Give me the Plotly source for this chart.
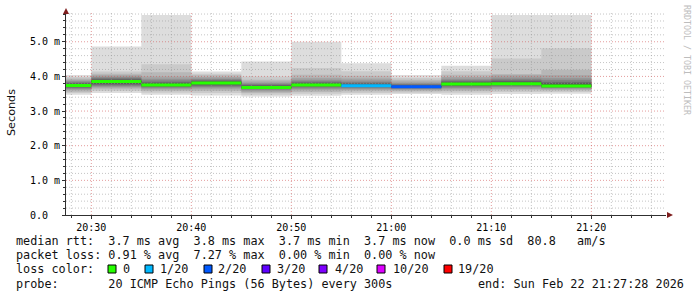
import plotly.graph_objects as go
import pandas as pd

DAY = "2026-02-22 "

# ---------------- data ----------------
interval_starts = ["20:25", "20:30", "20:35", "20:40", "20:45", "20:50",
                   "20:55", "21:00", "21:05", "21:10", "21:15"]
interval_end = "21:20"

# sorted 20 ping round-trip times per 5-minute interval (ms), estimated from the smoke
pings_ms = [
    [3.47, 3.52, 3.56, 3.60, 3.63, 3.66, 3.68, 3.70, 3.72, 3.73, 3.75, 3.77, 3.79, 3.81, 3.84, 3.87, 3.90, 3.94, 3.98, 4.04],
    [3.52, 3.58, 3.63, 3.67, 3.70, 3.73, 3.76, 3.79, 3.81, 3.83, 3.86, 3.88, 3.90, 3.93, 3.96, 3.99, 4.03, 4.08, 4.14, 4.86],
    [3.47, 3.53, 3.58, 3.62, 3.65, 3.68, 3.70, 3.72, 3.74, 3.75, 3.76, 3.78, 3.81, 3.84, 3.88, 3.93, 4.00, 4.12, 4.35, 5.77],
    [3.45, 3.52, 3.58, 3.63, 3.67, 3.70, 3.73, 3.76, 3.78, 3.80, 3.82, 3.84, 3.86, 3.88, 3.91, 3.94, 3.98, 4.03, 4.08, 4.14],
    [3.42, 3.47, 3.52, 3.56, 3.59, 3.62, 3.64, 3.66, 3.67, 3.68, 3.69, 3.71, 3.73, 3.75, 3.78, 3.81, 3.85, 3.90, 4.00, 4.43],
    [3.44, 3.50, 3.55, 3.60, 3.64, 3.67, 3.70, 3.72, 3.74, 3.75, 3.76, 3.78, 3.80, 3.83, 3.86, 3.90, 3.96, 4.05, 4.24, 5.00],
    [3.47, 3.52, 3.57, 3.61, 3.64, 3.67, 3.69, 3.71, 3.72, 3.73, 3.74, 3.76, 3.78, 3.81, 3.84, 3.88, 3.94, 4.02, 4.15, 4.38],
    [3.49, 3.53, 3.57, 3.60, 3.63, 3.65, 3.67, 3.68, 3.69, 3.70, 3.71, 3.72, 3.74, 3.76, 3.78, 3.81, 3.85, 3.90, 3.96, 4.04],
    [3.47, 3.53, 3.58, 3.62, 3.66, 3.69, 3.72, 3.74, 3.76, 3.78, 3.79, 3.81, 3.83, 3.86, 3.89, 3.93, 3.98, 4.05, 4.15, 4.31],
    [3.49, 3.55, 3.60, 3.64, 3.68, 3.71, 3.74, 3.76, 3.78, 3.79, 3.80, 3.82, 3.85, 3.88, 3.92, 3.97, 4.03, 4.07, 4.52, 5.77],
    [3.50, 3.55, 3.59, 3.62, 3.65, 3.67, 3.69, 3.70, 3.71, 3.72, 3.74, 3.77, 3.80, 3.84, 3.89, 3.95, 4.03, 4.19, 4.81, 5.77],
]
median_ms = [3.74, 3.85, 3.75, 3.81, 3.68, 3.75, 3.73, 3.70, 3.78, 3.79, 3.72]
loss_of_20 = [0, 0, 0, 0, 0, 0, 1, 2, 0, 0, 0]

loss_levels = [0, 1, 2, 3, 4, 10, 19]
loss_labels = ["0", "1/20", "2/20", "3/20", "4/20", "10/20", "19/20"]
loss_colors = ["#26ff00", "#00b8ff", "#0059ff", "#5e00ff", "#7e00ff", "#dd00ff", "#ff0000"]

y_tick_vals = [0, 1, 2, 3, 4, 5]
y_tick_text = ["0.0\u00a0\u00a0", "1.0 m", "2.0 m", "3.0 m", "4.0 m", "5.0 m"]
x_tick_vals = ["20:30", "20:40", "20:50", "21:00", "21:10", "21:20"]
x_range = ["20:27:28", "21:27:28"]
y_range = [0, 5.83]

legend_lines = [
    "median rtt:  3.7 ms avg  3.8 ms max  3.7 ms min  3.7 ms now  0.0 ms sd  80.8   am/s",
    "packet loss: 0.91 % avg  7.27 % max  0.00 % min  0.00 % now",
    "loss color:",
    "probe:       20 ICMP Echo Pings (56 Bytes) every 300s",
]
end_text = "end: Sun Feb 22 21:27:28 2026"
watermark = "RRDTOOL / TOBI OETIKER"

# ---------------- layout geometry (pixels) ----------------
W, H = 697, 297
L, R, T, B = 66, 31, 13, 82
PW, PH = W - L - R, H - T - B
AX_Y = T + PH  # pixel row of x axis


def px(x):
    return (x - L) / PW


def py(y):
    return (AX_Y - y) / PH


MONO = "DejaVu Sans Mono"
fig = go.Figure()

xs = [DAY + s for s in interval_starts] + [DAY + interval_end]

# ---------------- smoke ----------------
n = len(pings_ms[0])
half = n // 2
for ibot in range(1, half + 1):
    itop = n + 1 - ibot
    lo = [p[ibot - 1] for p in pings_ms]
    hi = [p[itop - 1] for p in pings_ms]
    c = int(190 / half * (half - ibot)) + 50
    fig.add_trace(go.Scatter(x=xs, y=lo + [lo[-1]], mode="lines",
                             line=dict(width=0, shape="hv"),
                             hoverinfo="skip", showlegend=False))
    fig.add_trace(go.Scatter(x=xs, y=hi + [hi[-1]], mode="lines",
                             line=dict(width=0, shape="hv"), fill="tonexty",
                             fillcolor=f"rgb({c},{c},{c})",
                             hoverinfo="skip", showlegend=False))

# ---------------- grid (drawn above smoke, below median) ----------------
t0 = pd.Timestamp(DAY + x_range[0])
t1 = pd.Timestamp(DAY + x_range[1])
all_x = pd.date_range(DAY + "20:28", DAY + "21:26", freq="2min")
major_x = [t for t in all_x if t.minute % 10 == 0]
minor_x = [t for t in all_x if t.minute % 10 != 0]
minor_y = [round(0.2 * k, 1) for k in range(1, 30) if k % 5 != 0]
major_y = [v for v in y_tick_vals if v > 0]


def grid_trace(xv, yv, color):
    gx, gy = [], []
    for t in xv:
        gx += [t, t, None]
        gy += [y_range[0], y_range[1], None]
    for v in yv:
        gx += [t0, t1, None]
        gy += [v, v, None]
    return go.Scatter(x=gx, y=gy, mode="lines",
                      line=dict(color=color, width=1, dash="1px,2px"),
                      hoverinfo="skip", showlegend=False, connectgaps=False)


fig.add_trace(grid_trace(minor_x, minor_y, "rgba(150,150,150,0.55)"))
fig.add_trace(grid_trace(major_x, major_y, "rgba(210,90,90,0.6)"))

# ---------------- median line colored by loss ----------------
def loss_color(lv):
    idx = 0
    for i, lev in enumerate(loss_levels):
        if lv >= lev:
            idx = i
    return loss_colors[idx]


for i, m in enumerate(median_ms):
    fig.add_trace(go.Scatter(x=[xs[i], xs[i + 1]], y=[m, m], mode="lines",
                             line=dict(color=loss_color(loss_of_20[i]), width=3),
                             hoverinfo="skip", showlegend=False))

# ---------------- axes ----------------
fig.update_xaxes(
    range=[DAY + x_range[0], DAY + x_range[1]],
    tickvals=[DAY + v for v in x_tick_vals], ticktext=x_tick_vals,
    showgrid=False, zeroline=False, showline=True, linecolor="#303030", linewidth=1,
    ticks="outside", ticklen=3, tickcolor="#303030",
    tickfont=dict(family=MONO, size=10, color="#000"),
    minor=dict(tickvals=list(minor_x), ticks="outside", ticklen=2,
               tickcolor="#303030", showgrid=False),
)
fig.update_yaxes(
    range=y_range, tickvals=y_tick_vals, ticktext=y_tick_text,
    showgrid=False, zeroline=False, showline=True, linecolor="#303030", linewidth=1,
    ticks="outside", ticklen=3, tickcolor="#303030",
    tickfont=dict(family=MONO, size=10, color="#000"),
    minor=dict(tickvals=minor_y, ticks="outside", ticklen=2,
               tickcolor="#303030", showgrid=False),
)

# ---------------- arrows ----------------
arrow_col = "#7f1f1f"
shapes = [
    dict(type="path", xref="paper", yref="paper",
         path=f"M {px(66)},{py(8)} L {px(63)},{py(14)} L {px(69)},{py(14)} Z",
         fillcolor=arrow_col, line=dict(width=0)),
    dict(type="path", xref="paper", yref="paper",
         path=f"M {px(673)},{py(AX_Y)} L {px(667)},{py(AX_Y - 3)} L {px(667)},{py(AX_Y + 3)} Z",
         fillcolor=arrow_col, line=dict(width=0)),
]

# legend colour boxes
box_lefts = [108, 145, 204, 262, 319, 377, 444]
label_x = [123, 160, 218, 277, 335, 393, 458]
for bx, col in zip(box_lefts, loss_colors):
    shapes.append(dict(type="rect", xref="paper", yref="paper",
                       x0=px(bx), x1=px(bx + 8), y0=py(265), y1=py(273),
                       fillcolor=col, line=dict(color="#000", width=1)))

annotations = []
line_y = [241, 255, 269, 284]
for txt, yy in zip(legend_lines, line_y):
    annotations.append(dict(xref="paper", yref="paper", x=px(16), y=py(yy),
                            xanchor="left", yanchor="middle", showarrow=False,
                            text=txt.replace(" ", "\u00a0"), borderpad=0, borderwidth=0,
                            font=dict(family=MONO, size=11.8, color="#111")))
annotations.append(dict(xref="paper", yref="paper", x=px(478), y=py(284),
                        xanchor="left", yanchor="middle", showarrow=False,
                        text=end_text.replace(" ", "\u00a0"), borderpad=0, borderwidth=0,
                        font=dict(family=MONO, size=11.8, color="#111")))
for lx, lab in zip(label_x, loss_labels):
    annotations.append(dict(xref="paper", yref="paper", x=px(lx), y=py(269),
                            xanchor="left", yanchor="middle", showarrow=False,
                            text=lab, borderpad=0, borderwidth=0,
                            font=dict(family=MONO, size=11.8, color="#111")))
# y-axis title
annotations.append(dict(xref="paper", yref="paper", x=px(11), y=py(113),
                        xanchor="center", yanchor="middle", showarrow=False,
                        text="Seconds", textangle=-90, borderpad=0, borderwidth=0,
                        font=dict(family="DejaVu Sans", size=11.2, color="#111")))
# watermark
annotations.append(dict(xref="paper", yref="paper", x=px(687), y=py(60),
                        xanchor="center", yanchor="middle", showarrow=False,
                        text=watermark.replace(" ", "\u00a0"), textangle=90,
                        borderpad=0, borderwidth=0,
                        font=dict(family=MONO, size=8.3, color="#bdbdbd")))

fig.update_layout(
    width=W, height=H, autosize=False,
    margin=dict(l=L, r=R, t=T, b=B, pad=0),
    paper_bgcolor="#ffffff", plot_bgcolor="#ffffff",
    showlegend=False, shapes=shapes, annotations=annotations,
)

fig.write_html("out.html")
